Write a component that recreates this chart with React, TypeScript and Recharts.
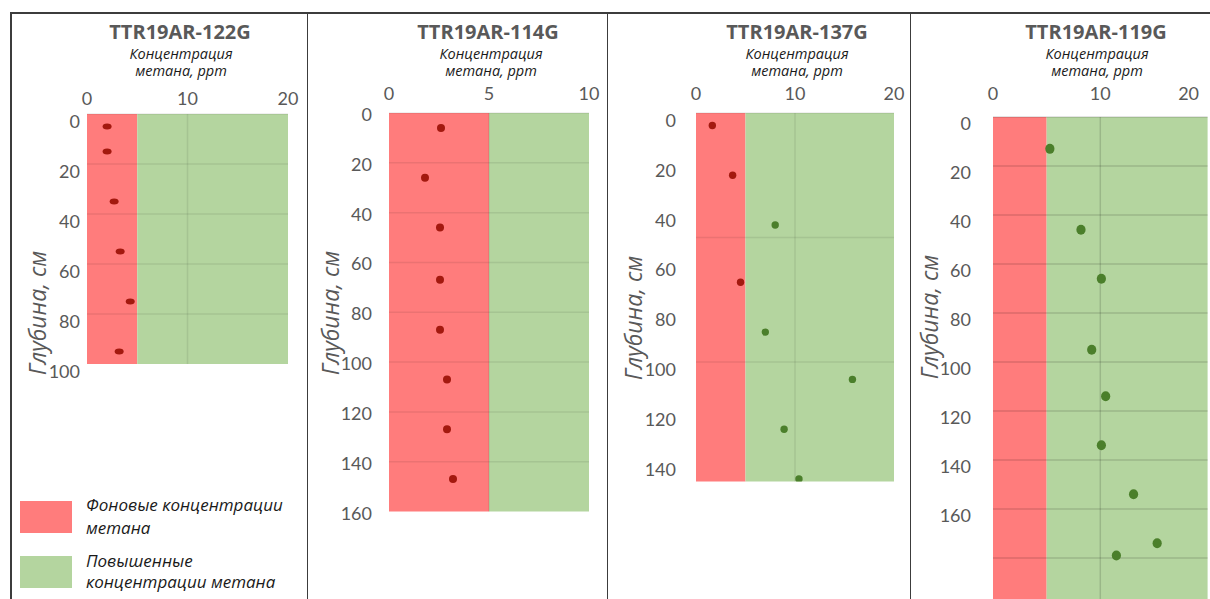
import { ReferenceArea, ReferenceLine, Scatter, ScatterChart, XAxis, YAxis } from "recharts";

// methane above this value counts as elevated
const BACKGROUND_LIMIT = 5;

// TTR19AR-122G
const depth122G = [5, 15, 35, 55, 75, 95];
const ppm122G = [2.0, 2.0, 2.7, 3.3, 4.3, 3.2];
// TTR19AR-114G
const depth114G = [6, 26, 46, 67, 87, 107, 127, 147];
const ppm114G = [2.6, 1.8, 2.55, 2.55, 2.55, 2.9, 2.9, 3.2];
// TTR19AR-137G
const depth137G = [5, 25, 45, 68, 88, 107, 127, 147];
const ppm137G = [1.65, 3.7, 8.0, 4.5, 7.0, 15.8, 8.9, 10.4];
// TTR19AR-119G
const depth119G = [13, 46, 66, 95, 114, 134, 154, 174, 179];
const ppm119G = [5.3, 8.2, 10.1, 9.2, 10.5, 10.1, 13.1, 15.3, 11.5];

const ppmTicks20 = [0, 10, 20];
const ppmTicks10 = [0, 5, 10];
const depthTicks100 = [0, 20, 40, 60, 80, 100];
const depthTicks140 = [0, 20, 40, 60, 80, 100, 120, 140];
const depthTicks160 = [0, 20, 40, 60, 80, 100, 120, 140, 160];
const depthGrid122G = [0, 20, 40, 60, 80];
const depthGrid114G = [0, 20, 40, 60, 80, 100, 120, 140];
const depthGrid137G = [0, 50, 100];
const depthGrid119G = [0, 20, 40, 60, 80, 100, 120, 140, 160, 180];

const RED = "#FF7C7C";
const GREEN = "#B4D59F";
const DOT_LOW = "#A3190F";
const DOT_HIGH = "#4B7F2B";
const GRAY = "#595959";
const LABEL_FONT = "Lato, 'Open Sans', sans-serif";
const TEXT_FONT = "'Open Sans', sans-serif";

const AX_W = 80;
const AX_H = 60;
const PAD = 12;
const PAD_BOTTOM = 24;

const panels = [
  {
    name: "TTR19AR-122G",
    depth: depth122G, ppm: ppm122G,
    plot: { x0: 87, x1: 288, y0: 113.5, y1: 363.5 },
    xDomain: [0, 20], xTicks: ppmTicks20, vGrid: [10],
    yDomain: [0, 100], yTicks: depthTicks100, hGrid: depthGrid122G,
    gridOpacity: 0.08, rx: 4.5, ry: 3,
    yGap: 7, yDy: 7, xLabelY: 97, lastXShift: 0,
    titleX: 180, subX: 181, axisTitle: { x: 37, y: 313 },
  },
  {
    name: "TTR19AR-114G",
    depth: depth114G, ppm: ppm114G,
    plot: { x0: 389, x1: 589, y0: 113, y1: 511.5 },
    xDomain: [0, 10], xTicks: ppmTicks10, vGrid: [5],
    yDomain: [0, 160], yTicks: depthTicks160, hGrid: depthGrid114G,
    gridOpacity: 0.08, rx: 4, ry: 4,
    yGap: 17, yDy: 1, xLabelY: 93, lastXShift: 0,
    titleX: 488, subX: 491, axisTitle: { x: 330, y: 313 },
  },
  {
    name: "TTR19AR-137G",
    depth: depth137G, ppm: ppm137G,
    plot: { x0: 696, x1: 894, y0: 113, y1: 481.5 },
    xDomain: [0, 20], xTicks: ppmTicks20, vGrid: [10],
    yDomain: [0, 148], yTicks: depthTicks140, hGrid: depthGrid137G,
    gridOpacity: 0.08, rx: 3.7, ry: 3.7,
    yGap: 20, yDy: 7, xLabelY: 93, lastXShift: 0,
    titleX: 797, subX: 797, axisTitle: { x: 633, y: 318 },
  },
  {
    name: "TTR19AR-119G",
    depth: depth119G, ppm: ppm119G,
    plot: { x0: 993, x1: 1207.6, y0: 116.5, y1: 606.5 },
    xDomain: [0, 20], xTicks: ppmTicks20, vGrid: [10],
    yDomain: [0, 200], yTicks: depthTicks160, hGrid: depthGrid119G,
    gridOpacity: 0.14, rx: 4.6, ry: 5,
    yGap: 22, yDy: 6, xLabelY: 93, lastXShift: -19,
    titleX: 1096, subX: 1097, axisTitle: { x: 929, y: 317 },
  },
];

type PanelCfg = (typeof panels)[number];

function Panel({ cfg }: { cfg: PanelCfg }) {
  const { x0, x1, y0, y1 } = cfg.plot;
  const points = cfg.depth.map((d, i) => ({ depth: d, ppm: cfg.ppm[i] }));
  const low = points.filter((p) => p.ppm <= BACKGROUND_LIMIT);
  const high = points.filter((p) => p.ppm > BACKGROUND_LIMIT);
  const yMax = cfg.yDomain[1];
  const xMax = cfg.xDomain[1];
  const gridStroke = `rgba(0,0,0,${cfg.gridOpacity})`;
  const lastX = cfg.xTicks[cfg.xTicks.length - 1];

  return (
    <div style={{ position: "absolute", left: x0 - AX_W, top: y0 - AX_H }}>
      <ScatterChart
        width={x1 - x0 + AX_W + PAD}
        height={y1 - y0 + AX_H + PAD_BOTTOM}
        margin={{ top: 0, right: PAD, bottom: PAD_BOTTOM, left: 0 }}
      >
        <XAxis
          type="number"
          dataKey="ppm"
          orientation="top"
          domain={cfg.xDomain}
          ticks={cfg.xTicks}
          interval={0}
          allowDataOverflow
          height={AX_H}
          axisLine={false}
          tickLine={false}
          tickSize={0}
          tickMargin={y0 - cfg.xLabelY}
          tick={(p: any) => (
            <text
              x={p.x + (p.payload.value === lastX ? cfg.lastXShift : 0)}
              y={p.y}
              textAnchor="middle"
              dominantBaseline="central"
              fill={GRAY}
              fontSize={18}
              fontFamily={LABEL_FONT}
            >
              {p.payload.value}
            </text>
          )}
        />
        <YAxis
          type="number"
          dataKey="depth"
          reversed
          domain={cfg.yDomain}
          ticks={cfg.yTicks}
          interval={0}
          allowDataOverflow
          width={AX_W}
          axisLine={false}
          tickLine={false}
          tickSize={0}
          tickMargin={cfg.yGap}
          tick={(p: any) => (
            <text
              x={p.x}
              y={p.y + cfg.yDy}
              textAnchor="end"
              dominantBaseline="central"
              fill={GRAY}
              fontSize={18}
              fontFamily={LABEL_FONT}
            >
              {p.payload.value}
            </text>
          )}
        />
        <ReferenceArea x1={0} x2={BACKGROUND_LIMIT} y1={0} y2={yMax} fill={RED} fillOpacity={1} stroke="none" />
        <ReferenceArea x1={BACKGROUND_LIMIT} x2={xMax} y1={0} y2={yMax} fill={GREEN} fillOpacity={1} stroke="none" />
        {cfg.hGrid.map((v) => (
          <ReferenceLine key={"h" + v} y={v} stroke={gridStroke} strokeWidth={1.5} />
        ))}
        {cfg.vGrid.map((v) => (
          <ReferenceLine key={"v" + v} x={v} stroke={gridStroke} strokeWidth={1.5} />
        ))}
        <Scatter
          data={low}
          isAnimationActive={false}
          shape={(p: any) => <ellipse cx={p.cx} cy={p.cy} rx={cfg.rx} ry={cfg.ry} fill={DOT_LOW} />}
        />
        <Scatter
          data={high}
          isAnimationActive={false}
          shape={(p: any) => <ellipse cx={p.cx} cy={p.cy} rx={cfg.rx} ry={cfg.ry} fill={DOT_HIGH} />}
        />
      </ScatterChart>
    </div>
  );
}

function Centered({ x, y, style, children }: any) {
  return (
    <div
      style={{
        position: "absolute",
        left: x,
        top: y,
        transform: "translate(-50%, -50%)",
        whiteSpace: "nowrap",
        lineHeight: 1,
        ...style,
      }}
    >
      {children}
    </div>
  );
}

const lineStyle = { position: "absolute" as const, background: "#3c3c3c" };

export default function App() {
  return (
    <div
      style={{
        position: "absolute",
        left: 0,
        top: 0,
        width: 1210,
        height: 599,
        overflow: "hidden",
        background: "#fff",
      }}
    >
      {panels.map((cfg) => (
        <Panel key={cfg.name} cfg={cfg} />
      ))}

      {/* titles and axis captions */}
      {panels.map((cfg) => (
        <div key={"t" + cfg.name}>
          <Centered x={cfg.titleX} y={32} style={{ fontFamily: TEXT_FONT, fontWeight: 700, fontSize: 20, color: GRAY }}>
            {cfg.name}
          </Centered>
          <Centered x={cfg.subX} y={53.5} style={{ fontFamily: TEXT_FONT, fontStyle: "italic", fontSize: 14.5, color: "#1a1a1a" }}>
            Концентрация
          </Centered>
          <Centered x={cfg.subX} y={71} style={{ fontFamily: TEXT_FONT, fontStyle: "italic", fontSize: 14.5, color: "#1a1a1a" }}>
            метана, ppm
          </Centered>
          <div
            style={{
              position: "absolute",
              left: cfg.axisTitle.x,
              top: cfg.axisTitle.y,
              transform: "translate(-50%, -50%) rotate(-90deg)",
              whiteSpace: "nowrap",
              lineHeight: 1,
              fontFamily: TEXT_FONT,
              fontStyle: "italic",
              fontSize: 23,
              color: GRAY,
            }}
          >
            Глубина, см
          </div>
        </div>
      ))}

      {/* legend */}
      <div style={{ position: "absolute", left: 20, top: 501, width: 52, height: 32, background: RED }} />
      <div style={{ position: "absolute", left: 20, top: 556, width: 52, height: 32, background: GREEN }} />
      <div
        style={{
          position: "absolute",
          left: 86,
          top: 493,
          fontFamily: TEXT_FONT,
          fontStyle: "italic",
          fontSize: 17,
          lineHeight: "23px",
          color: "#1a1a1a",
          whiteSpace: "nowrap",
        }}
      >
        Фоновые концентрации
        <br />
        метана
      </div>
      <div
        style={{
          position: "absolute",
          left: 86,
          top: 550,
          fontFamily: TEXT_FONT,
          fontStyle: "italic",
          fontSize: 17,
          lineHeight: "21px",
          color: "#1a1a1a",
          whiteSpace: "nowrap",
        }}
      >
        Повышенные
        <br />
        концентрации метана
      </div>

      {/* frame */}
      <div style={{ ...lineStyle, left: 10, top: 12, width: 1200, height: 1.5 }} />
      <div style={{ ...lineStyle, left: 10, top: 12, width: 1.5, height: 600 }} />
      <div style={{ ...lineStyle, left: 306.5, top: 12, width: 1.5, height: 600 }} />
      <div style={{ ...lineStyle, left: 606.5, top: 12, width: 1.5, height: 600 }} />
      <div style={{ ...lineStyle, left: 909.5, top: 12, width: 1.5, height: 600 }} />
    </div>
  );
}
